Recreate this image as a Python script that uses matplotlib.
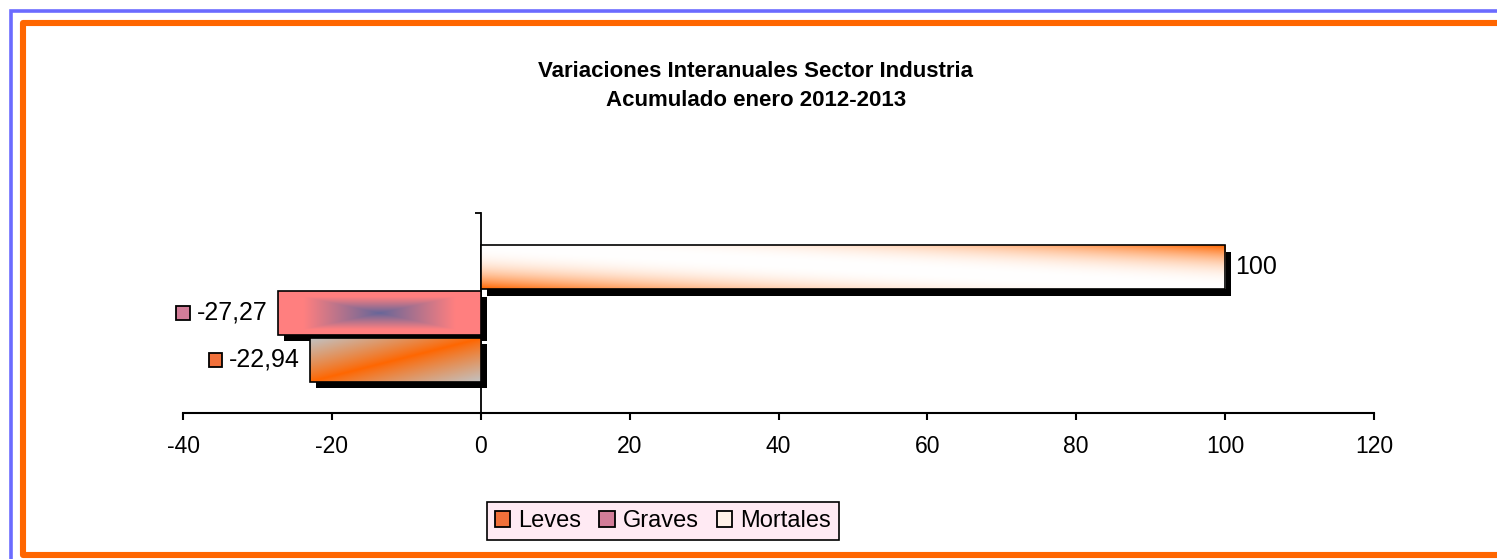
import numpy as np
import matplotlib
matplotlib.use("Agg")
import matplotlib.pyplot as plt
import matplotlib.patheffects as pe
from matplotlib.lines import Line2D
from matplotlib.patches import Rectangle
from matplotlib.offsetbox import AnnotationBbox, HPacker, DrawingArea, TextArea

plt.rcParams['font.family'] = ['Liberation Sans', 'DejaVu Sans']
plt.rcParams['axes.unicode_minus'] = False

series = ['Leves', 'Graves', 'Mortales']
values = [-22.94, -27.27, 100]
offsets = [-0.233, 0.0, 0.228]
key_colors = ['#F0703A', '#D27C98', '#FFF1E8']

ORANGE = np.array([1.0, 0.4, 0.0])
WHITE = np.array([1.0, 1.0, 1.0])
GRAY = np.array([0.76, 0.76, 0.76])
PINK = np.array([1.0, 0.5, 0.5])
BLUE = np.array([0.4, 0.4, 0.6])


def gradient(name, nx=300, ny=60):
    u, v = np.meshgrid(np.linspace(0, 1, nx), np.linspace(0, 1, ny))
    if name == 'Mortales':
        t = np.abs(u + v - 1) ** 2.3
        c0, c1 = WHITE, ORANGE
    elif name == 'Leves':
        t = np.abs(u - v) ** 0.9
        c0, c1 = ORANGE, GRAY
    else:
        t = np.clip(np.maximum(np.abs(2 * u - 1), np.abs(2 * v - 1)) / 0.75, 0, 1)
        c0, c1 = BLUE, PINK
    t = t[..., None]
    return c0 * (1 - t) + c1 * t


fig = plt.figure(figsize=(14.97, 5.59), dpi=100)
ax = fig.add_axes([183 / 1497, 1 - 413 / 559, (1374 - 183) / 1497, 200 / 559])

h = 0.22
for name, val, off in zip(series, values, offsets):
    shadow = ax.barh(off, val, height=h, color='white', zorder=2)[0]
    shadow.set_path_effects([pe.SimplePatchShadow(offset=(4.2, -4.5), shadow_rgbFace='black', alpha=1),
                             pe.Normal()])
    x0, x1 = sorted([0, val])
    im = ax.imshow(gradient(name), extent=[x0, x1, off - h / 2, off + h / 2],
                   origin='lower', aspect='auto', interpolation='bilinear', zorder=3)
    im.set_clip_path(shadow)
    ax.barh(off, val, height=h, facecolor='none', edgecolor='black', linewidth=1.2, zorder=4)

# data labels
for name, val, off, kc in zip(series, values, offsets, key_colors):
    txt = f"{val:.2f}".replace('.', ',') if val != int(val) else str(int(val))
    if val < 0:
        da = DrawingArea(10, 10, 0, 0)
        da.add_artist(Rectangle((0, 0), 10, 10, facecolor=kc, edgecolor='black', linewidth=1.3))
        ta = TextArea(txt, textprops=dict(fontsize=18))
        box = HPacker(children=[da, ta], align='center', pad=0, sep=4.5)
        ab = AnnotationBbox(box, (val, off), xybox=(-7.5, 0), xycoords='data',
                            boxcoords='offset points', box_alignment=(1, 0.5),
                            frameon=False, zorder=5)
        ax.add_artist(ab)
    else:
        ax.annotate(txt, (val, off), xytext=(7, 0), textcoords='offset points',
                    ha='left', va='center', fontsize=18, zorder=5)

ax.set_xlim(-40, 120)
ax.set_ylim(-0.5, 0.5)
ax.set_xticks(np.arange(-40, 121, 20))
ax.set_yticks([-0.5, 0.5])
ax.set_yticklabels([])
for s in ['top', 'right']:
    ax.spines[s].set_visible(False)
ax.spines['left'].set_position(('data', 0))
ax.spines['left'].set_linewidth(1.3)
ax.spines['bottom'].set_linewidth(1.5)
ax.tick_params(axis='x', direction='out', length=5, width=1.5, labelsize=16.5, pad=11)
ax.tick_params(axis='y', direction='out', length=4, width=1.3)
ax.patch.set_alpha(0)

fig.text(756 / 1497, 1 - 86 / 559, 'Variaciones Interanuales Sector Industria\nAcumulado enero 2012-2013',
         ha='center', va='center', fontsize=16, fontweight='bold', linespacing=1.5)

handles = [Rectangle((0, 0), 1, 1, facecolor=c, edgecolor='black', linewidth=1.3) for c in key_colors]
leg = fig.legend(handles, series, loc='center', bbox_to_anchor=(663 / 1497, 1 - 521 / 559),
                 ncol=3, fontsize=17, frameon=True, fancybox=False, edgecolor='black',
                 facecolor='#FFEAF3', handlelength=0.65, handleheight=0.65, handletextpad=0.35,
                 columnspacing=0.75, borderpad=0.32, borderaxespad=0)
leg.get_frame().set_linewidth(1.2)
leg.get_frame().set_alpha(1)

# outer borders
W, H = 1497, 559
def px(x, y):
    return x / W, 1 - y / H

bx, by = zip(px(10.8, 600), px(10.8, 10.8), px(1600, 10.8))
fig.add_artist(Line2D(bx, by, color='#6B6BFF', linewidth=2.6, transform=fig.transFigure,
                      solid_joinstyle='miter'))
ox, oy = zip(px(1600, 23), px(23, 23), px(23, 554.5), px(1600, 554.5))
fig.add_artist(Line2D(ox, oy, color='#FF6600', linewidth=4.4, transform=fig.transFigure,
                      solid_joinstyle='round'))

fig.savefig('out.png', dpi=100)
